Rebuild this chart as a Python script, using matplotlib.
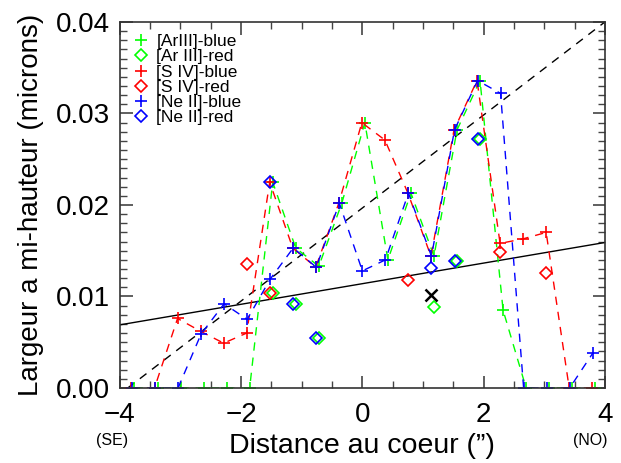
import numpy as np
import matplotlib
matplotlib.use("Agg")
import matplotlib.pyplot as plt
import matplotlib.transforms as mtransforms
from matplotlib.lines import Line2D
from matplotlib.ticker import MultipleLocator

plt.rcParams['font.family'] = ['Liberation Sans', 'DejaVu Sans']

nan = np.nan
x = [-3.80, -3.42, -3.04, -2.66, -2.28, -1.90, -1.52, -1.14, -0.76, -0.38, 0.00,
     0.38, 0.76, 1.14, 1.52, 1.90, 2.28, 2.66, 3.04, 3.42, 3.80]

ar_blue = [0, 0, 0, 0, 0, 0, 0.0225, 0.0153, 0.0133, 0.0202, 0.0290,
           0.0140, 0.0213, 0.0144, 0.0282, 0.0336, 0.0085, 0, 0, 0, 0]
ar_red = [nan, nan, nan, nan, nan, nan, 0.0104, 0.0092, 0.0055, nan, nan,
          nan, nan, 0.0089, 0.0139, 0.0272, nan, nan, nan, nan, nan]
s_blue = [0, 0, 0.0076, 0.0062, 0.0049, 0.0060, 0.0225, 0.0153, 0.0132, 0.0202, 0.0290,
          0.0271, 0.0213, 0.0144, 0.0282, 0.0336, 0.0158, 0.0163, 0.0170, 0, 0]
s_red = [nan, nan, nan, nan, nan, 0.0135, 0.0104, nan, nan, nan, nan,
         nan, 0.0118, nan, nan, nan, 0.0149, nan, 0.0126, nan, nan]
ne_blue = [0, 0, 0, 0.0059, 0.0092, 0.0075, 0.0119, 0.0153, 0.0132, 0.0202, 0.0128,
           0.0140, 0.0213, 0.0144, 0.0282, 0.0336, 0.0322, 0, 0, 0, 0.0038]
ne_red = [nan, nan, nan, nan, nan, nan, 0.0225, 0.0092, 0.0055, nan, nan,
          nan, nan, 0.0131, 0.0139, 0.0272, nan, nan, nan, nan, nan]

cross_x = [1.14]
cross_y = [0.0102]

fit_solid_x = [-4.0, 4.0]
fit_solid_y = [0.0069, 0.0159]
fit_dash_x = [-3.87, 4.0]
fit_dash_y = [0.0, 0.040]

labels = ['[ArIII]-blue', '[Ar III]-red', '[S IV]-blue', '[S IV]-red', '[Ne II]-blue', '[Ne II]-red']

G, R, B = '#00ff00', '#ff0000', '#0000ff'

fig = plt.figure(figsize=(6.21, 4.63), dpi=100)
ax = fig.add_axes([0.193, 0.162, 0.781, 0.7905])

# small pixel shifts so overlapping series stay visible, as in the original
tr_g = ax.transData + mtransforms.ScaledTranslation(2.5 / 100, 0, fig.dpi_scale_trans)
tr_r = ax.transData + mtransforms.ScaledTranslation(-0.5 / 100, 0, fig.dpi_scale_trans)

ax.plot(fit_solid_x, fit_solid_y, color='black', lw=1.0)
ax.plot(fit_dash_x, fit_dash_y, color='black', lw=1.0, dashes=(6, 5))

dash = (6, 5)
pms = 9
dms = 6
ax.plot(x, ar_blue, color=G, lw=1.0, dashes=dash, marker='+', ms=pms, mew=1.2, transform=tr_g)
ax.plot(x, ar_red, ls='none', marker='D', ms=dms, mfc='none', mec=G, mew=1.2, transform=tr_g)
ax.plot(x, s_blue, color=R, lw=1.0, dashes=dash, marker='+', ms=pms, mew=1.2, transform=tr_r)
ax.plot(x, s_red, ls='none', marker='D', ms=dms, mfc='none', mec=R, mew=1.2, transform=tr_r)
ax.plot(x, ne_blue, color=B, lw=1.0, dashes=dash, marker='+', ms=pms, mew=1.2)
ax.plot(x, ne_red, ls='none', marker='D', ms=dms, mfc='none', mec=B, mew=1.2)
ax.plot(cross_x, cross_y, ls='none', marker='x', ms=8, mew=1.8, color='black')

ax.set_xlim(-4, 4)
ax.set_ylim(0, 0.04)
ax.xaxis.set_major_locator(MultipleLocator(2))
ax.xaxis.set_minor_locator(MultipleLocator(0.5))
ax.yaxis.set_major_locator(MultipleLocator(0.01))
ax.yaxis.set_minor_locator(MultipleLocator(0.001))
ax.yaxis.set_major_formatter(matplotlib.ticker.FormatStrFormatter('%.2f'))
ax.tick_params(which='both', direction='in', top=True, right=True, labelsize=20, color='#444444')
ax.tick_params(which='major', length=9, width=1.2)
ax.tick_params(which='minor', length=5, width=1.0)
ax.tick_params(axis='x', which='major', pad=10)
ax.tick_params(axis='y', which='major', pad=7)
for s in ax.spines.values():
    s.set_linewidth(1.2)
    s.set_color('#333333')

ax.set_xlabel("Distance au coeur (\u201d)", fontsize=20.5, labelpad=4)
ax.set_ylabel("Largeur a mi-hauteur (microns)", fontsize=20, labelpad=9)
fig.text(112 / 621, 1 - 440 / 463, '(SE)', fontsize=11.5, ha='center', va='center')
fig.text(590 / 621, 1 - 440 / 463, '(NO)', fontsize=11.5, ha='center', va='center')

handles = [
    Line2D([], [], ls='none', marker='+', ms=pms, mew=1.2, color=G),
    Line2D([], [], ls='none', marker='D', ms=dms, mfc='none', mec=G, mew=1.2),
    Line2D([], [], ls='none', marker='+', ms=pms, mew=1.2, color=R),
    Line2D([], [], ls='none', marker='D', ms=dms, mfc='none', mec=R, mew=1.2),
    Line2D([], [], ls='none', marker='+', ms=pms, mew=1.2, color=B),
    Line2D([], [], ls='none', marker='D', ms=dms, mfc='none', mec=B, mew=1.2),
]
ax.legend(handles, labels, loc='upper left', bbox_to_anchor=(0.0, 1.0), frameon=False,
          fontsize=12.5, handlelength=1.0, handletextpad=0.4, labelspacing=0.0,
          borderaxespad=0.3)

fig.savefig('out.png', dpi=100)
